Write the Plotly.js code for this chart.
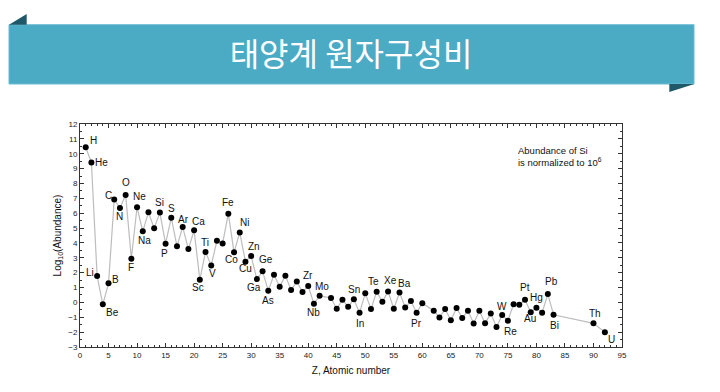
<!DOCTYPE html>
<html>
<head>
<meta charset="utf-8">
<script src="https://cdn.plot.ly/plotly-3.0.1.min.js"></script>
<style>
  html, body { margin: 0; padding: 0; background: #ffffff; }
  #chart { width: 720px; height: 392px; }
</style>
</head>
<body>
<div id="chart"></div>
<script>
// ---------------- DATA ----------------
const atomicNumbers = [
  1, 2, 3, 4, 5, 6, 7, 8, 9, 10,
  11, 12, 13, 14, 15, 16, 17, 18, 19, 20,
  21, 22, 23, 24, 25, 26, 27, 28, 29, 30,
  31, 32, 33, 34, 35, 36, 37, 38, 39, 40,
  41, 42, 44, 45, 46, 47, 48, 49, 50,
  51, 52, 53, 54, 55, 56, 57, 58, 59, 60,
  62, 63, 64, 65, 66, 67, 68, 69, 70,
  71, 72, 73, 74, 75, 76, 77, 78, 79, 80,
  81, 82, 83, 90, 92
];
const logAbundance = [
  10.44, 9.41, 1.77, -0.13, 1.28, 6.92, 6.35, 7.23, 2.94, 6.40,
  4.78, 6.06, 4.98, 6.04, 3.95, 5.70, 3.77, 5.07, 3.59, 4.85,
  1.53, 3.39, 2.49, 4.15, 3.97, 5.97, 3.37, 4.71, 2.74, 3.12,
  1.57, 2.09, 0.79, 1.86, 1.06, 1.80, 0.83, 1.41, 0.70, 1.10,
  -0.09, 0.45, 0.29, -0.43, 0.18, -0.29, 0.21, -0.70, 0.61,
  -0.45, 0.72, 0.04, 0.74, -0.43, 0.67, -0.34, 0.09, -0.70, -0.05,
  -0.56, -1.01, -0.45, -1.20, -0.38, -1.05, -0.56, -1.42, -0.56,
  -1.41, -0.74, -1.66, -0.85, -1.23, -0.13, -0.16, 0.18, -0.67, -0.36,
  -0.69, 0.56, -0.83, -1.41, -2.00
];
const elementLabels = [
  "H", "He", "Li", "Be", "B", "C", "N", "O", "F", "Ne",
  "Na", "", "", "Si", "P", "S", "", "Ar", "", "Ca",
  "Sc", "Ti", "V", "", "", "Fe", "Co", "Ni", "Cu", "Zn",
  "Ga", "Ge", "As", "", "", "", "", "", "", "Zr",
  "Nb", "Mo", "", "", "", "", "", "In", "Sn",
  "", "Te", "", "Xe", "", "Ba", "", "", "Pr", "",
  "", "", "", "", "", "", "", "", "",
  "", "", "", "W", "Re", "", "", "Pt", "Au", "Hg",
  "", "Pb", "Bi", "Th", "U"
];
const xTitle = "Z, Atomic number";
const yTitle = "Log<sub>10</sub>(Abundance)";
const noteText = "Abundance of Si<br>is normalized to 10<sup>6</sup>";
const bannerTitle = "태양계 원자구성비";

// ---------------- STYLE / PLACEMENT ----------------
// label offsets in pixels relative to the point: [dx, dy(up)]
const labelOffset = {
  H: [8, 7], He: [10, 0], Li: [-7, 4], Be: [10, -8], B: [7, 4],
  C: [-6, 4], N: [0, -8.5], O: [0, 12], F: [0, -9], Ne: [2, 11],
  Na: [2, -9], Si: [0, 10], P: [-1, -10], S: [0, 9], Ar: [1, 8],
  Ca: [4, 9], Sc: [-2, -7.5], Ti: [-1, 10], V: [1.5, -8], Fe: [0, 11],
  Co: [-2.5, -7], Ni: [5, 10], Cu: [0, -7], Zn: [3, 10], Ga: [-3, -8],
  Ge: [3, 12], As: [0, -10], Zr: [0, 11], Nb: [0, -9], Mo: [2, 9],
  Sn: [-11, 4], In: [0, -11], Te: [-3, 10], Xe: [2.5, 11], Ba: [5, 9],
  Pr: [0, -11], W: [0, 9], Re: [3, -11], Pt: [0, 12], Au: [-1, -6],
  Hg: [0, 10], Pb: [4, 13], Bi: [1, -11], Th: [2, 10], U: [6.5, -7]
};

const W = 720, H = 392;
const M = { l: 80, r: 98, t: 124, b: 45 };
const plotW = W - M.l - M.r, plotH = H - M.t - M.b;
const px = x => (x - M.l) / plotW;          // pixel -> paper x
const py = y => (H - M.b - y) / plotH;      // pixel -> paper y

const font = "Liberation Sans, Arial, sans-serif";
const axisColor = "#333333";

const trace = {
  x: atomicNumbers,
  y: logAbundance,
  type: "scatter",
  mode: "lines+markers",
  line: { color: "#bdbdbd", width: 1.2 },
  marker: { color: "#000000", size: 6 },
  hoverinfo: "x+y",
  showlegend: false
};

const annotations = [];
elementLabels.forEach((lab, i) => {
  if (!lab) return;
  const off = labelOffset[lab] || [0, 10];
  annotations.push({
    x: atomicNumbers[i], y: logAbundance[i], xref: "x", yref: "y",
    text: lab, showarrow: false, xanchor: "center", yanchor: "middle",
    xshift: off[0], yshift: off[1],
    font: { family: font, size: 10, color: "#111111" }
  });
});
annotations.push({
  x: px(516), y: py(156), xref: "paper", yref: "paper",
  text: noteText, showarrow: false, xanchor: "left", yanchor: "middle", align: "left",
  font: { family: font, size: 9.5, color: "#111111" }
});

const shapes = [
  { type: "rect", xref: "paper", yref: "paper",
    x0: px(9), x1: px(694), y0: py(84), y1: py(24.7),
    fillcolor: "#4babc5", line: { color: "#6cbcd2", width: 1 }, layer: "above" },
  { type: "path", xref: "paper", yref: "paper",
    path: `M ${px(9)} ${py(24.7)} L ${px(26.7)} ${py(14)} L ${px(26.7)} ${py(24.7)} Z`,
    fillcolor: "#1f5868", line: { width: 0 }, layer: "above" },
  { type: "path", xref: "paper", yref: "paper",
    path: `M ${px(669.3)} ${py(84)} L ${px(694.3)} ${py(84)} L ${px(669.3)} ${py(92)} Z`,
    fillcolor: "#1f5868", line: { width: 0 }, layer: "above" }
];

const axisCommon = {
  showgrid: false, zeroline: false,
  showline: true, linecolor: axisColor, linewidth: 1,
  mirror: "allticks", ticks: "inside", ticklen: 4, tickwidth: 1, tickcolor: axisColor,
  tickfont: { family: font, size: 8, color: "#222222" },
  title: { font: { family: font, size: 10, color: "#111111" } }
};

const layout = {
  width: W, height: H,
  margin: M,
  paper_bgcolor: "#ffffff", plot_bgcolor: "#ffffff",
  title: {
    text: bannerTitle,
    font: { family: "Noto Sans CJK KR, sans-serif", size: 32, color: "#ffffff" },
    xref: "paper", x: 0.5, xanchor: "center",
    yref: "container", y: 1 - 55 / H, yanchor: "middle"
  },
  xaxis: Object.assign({}, axisCommon, {
    range: [0, 95], tickmode: "linear", tick0: 0, dtick: 5,
    minor: { dtick: 1, ticks: "inside", ticklen: 2, tickcolor: axisColor, showgrid: false },
    title: { text: xTitle, standoff: 8, font: axisCommon.title.font }
  }),
  yaxis: Object.assign({}, axisCommon, {
    range: [-3, 12], tickmode: "linear", tick0: 0, dtick: 1,
    minor: { dtick: 0.5, ticks: "inside", ticklen: 2, tickcolor: axisColor, showgrid: false },
    title: { text: yTitle, standoff: 4, font: axisCommon.title.font }
  }),
  shapes: shapes,
  annotations: annotations
};

Plotly.newPlot("chart", [trace], layout, { displayModeBar: false, staticPlot: true });
</script>
</body>
</html>
